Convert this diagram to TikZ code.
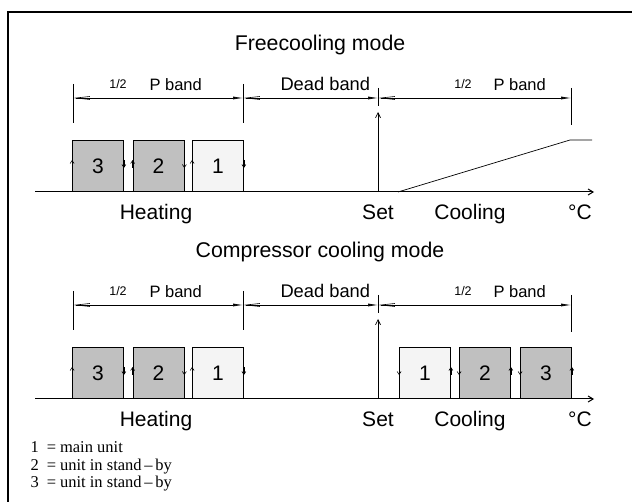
\documentclass[tikz,border=0pt]{standalone}
\usepackage{fontspec}
\setmainfont{Liberation Sans}
\newfontfamily\legendfont{Liberation Serif}
\usetikzlibrary{arrows.meta}

\definecolor{unitdark}{RGB}{192,192,192}
\definecolor{unitlight}{RGB}{244,244,244}

\tikzset{
  title/.style={anchor=base,font=\fontsize{21.3}{24}\selectfont},
  axislabel/.style={anchor=base,font=\fontsize{21}{24}\selectfont},
  bandlabel/.style={anchor=base west,font=\fontsize{16.5}{20}\selectfont},
  deadlabel/.style={anchor=base west,font=\fontsize{18.3}{20}\selectfont},
  halflabel/.style={anchor=base,font=\fontsize{12.5}{14}\selectfont},
  legend/.style={anchor=base west,font=\legendfont\fontsize{16.5}{18}\selectfont},
  unit/.style={draw,line width=0.8pt,minimum width=51pt,minimum height=51pt,
               inner sep=0pt,font=\fontsize{21}{24}\selectfont},
  darkunit/.style={unit,fill=unitdark},
  lightunit/.style={unit,fill=unitlight},
  tick/.style={line width=0.6pt},
  dimline/.style={line width=0.6pt,
    {Straight Barb[length=14pt,width=3pt]}-{Latex[length=10pt,width=3pt]}},
  axisline/.style={line width=1pt,-{Straight Barb[length=5pt,width=6pt]}},
  setline/.style={line width=0.7pt,-{Straight Barb[length=5pt,width=5pt]}},
  edgetip/.style={line width=0.6pt,-{Straight Barb[length=3pt,width=4pt]}},
  ramp/.style={line width=0.7pt},
}

\begin{document}
\begin{tikzpicture}[x=1pt,y=-1pt]
\useasboundingbox (0,0) rectangle (632,502);

% frame (top and left edges only)
\draw[line width=1.2pt] (8,502) -- (8,12) -- (632,12);

% parts common to both panels
\foreach \p/\dy in {a/0,b/207}{
  % band limits on the dimension line
  \coordinate (\p L) at (73,98+\dy);
  \coordinate (\p M) at (243,98+\dy);
  \coordinate (\p S) at (378,98+\dy);
  \coordinate (\p R) at (571,98+\dy);
  % tick ends
  \coordinate (\p Lt) at (73,84+\dy);   \coordinate (\p Lb) at (73,123+\dy);
  \coordinate (\p Mt) at (243,84+\dy);  \coordinate (\p Mb) at (243,123+\dy);
  \coordinate (\p St) at (378,88+\dy);  \coordinate (\p Sb) at (378,106+\dy);
  \coordinate (\p Rt) at (571,88+\dy);  \coordinate (\p Rb) at (571,125+\dy);
  \draw[tick] (\p Lt) -- (\p Lb);
  \draw[tick] (\p Mt) -- (\p Mb);
  \draw[tick] (\p St) -- (\p Sb);
  \draw[tick] (\p Rt) -- (\p Rb);
  % dimension arrows
  \draw[dimline] (\p L) -- (\p M);
  \draw[dimline] (\p M) -- (\p S);
  \draw[dimline] (\p S) -- (\p R);
  % band labels
  \node[halflabel] (\p h1) at (118,89+\dy) {1/2};
  \node[bandlabel] (\p p1) at (146,91+\dy) {P band};
  \node[deadlabel] (\p db) at (277,91+\dy) {Dead band};
  \node[halflabel] (\p h2) at (463,89+\dy) {1/2};
  \node[bandlabel] (\p p2) at (490,91+\dy) {P band};
  % temperature axis
  \coordinate (\p A0) at (35,192+\dy);
  \coordinate (\p A1) at (594,192+\dy);
  \draw[axisline] (\p A0) -- (\p A1);
  % set point
  \coordinate (\p S0) at (378,192+\dy);
  \coordinate (\p S1) at (378,112+\dy);
  \draw[setline] (\p S0) -- (\p S1);
  % axis labels
  \node[axislabel] (\p heat) at (156,220+\dy) {Heating};
  \node[axislabel] (\p set)  at (378,220+\dy) {Set};
  \node[axislabel] (\p cool) at (470,220+\dy) {Cooling};
  \node[axislabel] (\p deg)  at (580,220+\dy) {°C};
  % heating stages
  \node[darkunit]  (\p H3) at (98,166+\dy)  {3};
  \node[darkunit]  (\p H2) at (158.5,166+\dy) {2};
  \node[lightunit] (\p H1) at (218,166+\dy) {1};
  \foreach \u in {H3,H2,H1}{
    \draw[edgetip] ([yshift=-2pt]\p\u.west) -- ([yshift=6pt]\p\u.west);
    \draw[edgetip] ([yshift=6pt]\p\u.east) -- ([yshift=-2pt]\p\u.east);
  }
}

% titles
\node[title] (t1) at (320,51) {Freecooling mode};
\node[title] (t2) at (320,258) {Compressor cooling mode};

% freecooling: proportional damper ramp
\coordinate (r0) at (398,192);
\coordinate (r1) at (570,140);
\coordinate (r2) at (592,140);
\draw[ramp] (r0) -- (r1) -- (r2);

% compressor cooling stages
\node[lightunit] (bC1) at (425,373) {1};
\node[darkunit]  (bC2) at (485,373) {2};
\node[darkunit]  (bC3) at (546,373) {3};
\foreach \u in {bC1,bC2,bC3}{
  \draw[edgetip] ([yshift=6pt]\u.west) -- ([yshift=-2pt]\u.west);
  \draw[edgetip] ([yshift=-2pt]\u.east) -- ([yshift=6pt]\u.east);
}

% legend
\node[legend] (k1) at (27,453) {1\hspace{8pt}=\hspace{4pt}main unit};
\node[legend] (k2) at (27,470) {2\hspace{8pt}=\hspace{4pt}unit in stand\,–\,by};
\node[legend] (k3) at (27,487) {3\hspace{8pt}=\hspace{4pt}unit in stand\,–\,by};
\end{tikzpicture}
\end{document}
